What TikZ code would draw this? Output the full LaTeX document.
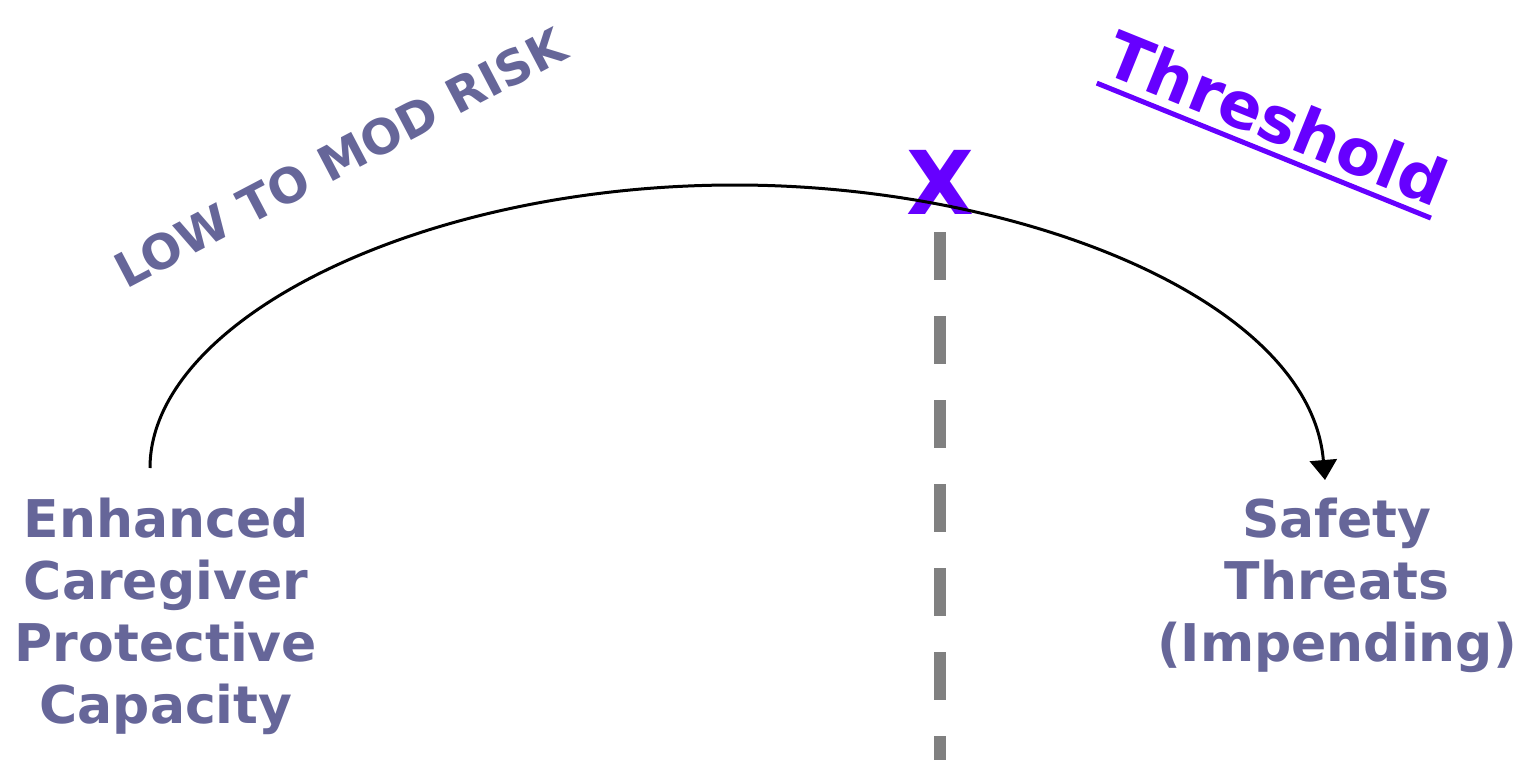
\documentclass[tikz,border=0pt]{standalone}
\usepackage{fontspec}
\setmainfont{DejaVu Sans}
\usepackage{tikz}
\usetikzlibrary{arrows.meta, positioning}

\definecolor{slate}{HTML}{666699}
\definecolor{violet}{HTML}{6600FF}

\begin{document}
\begin{tikzpicture}[
    x=0.5pt, y=-0.5pt,
    side/.style={text=slate, align=center, inner sep=0pt, anchor=north, font=\fontsize{26}{31}\selectfont\bfseries},
    zone/.style={text=slate, font=\fontsize{24}{28}\selectfont\bfseries},
    path/.style={-{Triangle[width=13.5pt, length=10pt]}, line width=1.5pt},
    limit/.style={draw=gray, line width=6pt, dash pattern=on 24pt off 18pt},
]
\path[use as bounding box] (0,0) rectangle (1537,760);

% Nodes
\node[side] (protect) at (166,498) {Enhanced\\Caregiver\\Protective\\Capacity};
\node[side] (threats) at (1337,498) {Safety\\Threats\\(Impending)};

% Labels
\node[zone, rotate=27.7] (risk) at (340,158) {LOW TO MOD RISK};
\node[text=violet, font=\fontsize{32}{38}\selectfont\bfseries, rotate=-22, inner xsep=0pt, inner ysep=5pt] (thresh) at (1277,118) {Threshold};
\draw[violet, line width=2.5pt] (thresh.south west) -- (thresh.south east);

% Threshold line
\coordinate (linetop) at (940,232);
\coordinate (linebot) at (940,760);
\draw[limit] (linetop) -- (linebot);
\node[text=violet, font=\fontsize{44}{50}\selectfont\bfseries, inner sep=0pt] (cross) at (940,182) {X};

% Arrow
\coordinate (start) at (150,468);
\coordinate (peak) at (735,185);
\coordinate (finish) at (1325,480);
\draw[path] (start) .. controls (150,320) and (420,185) .. (peak)
    .. controls (1020,185) and (1310,300) .. (finish);

\end{tikzpicture}
\end{document}
